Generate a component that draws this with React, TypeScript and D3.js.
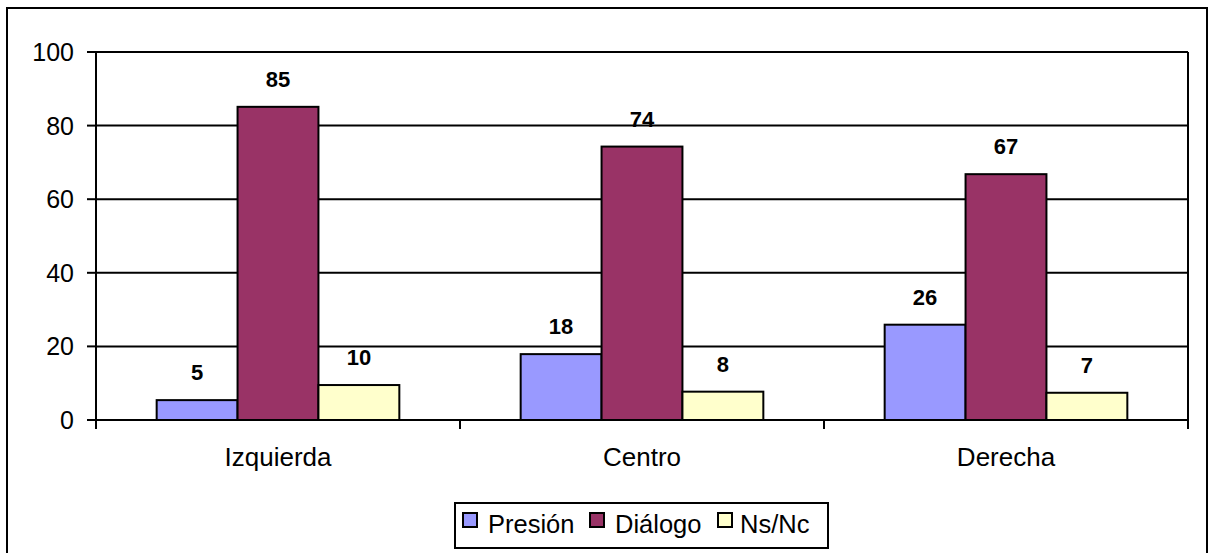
import React from "react";
import * as d3 from "d3";

const categories = ["Izquierda", "Centro", "Derecha"];
const seriesNames = ["Presión", "Diálogo", "Ns/Nc"];
const presion = [5.4, 17.9, 25.9];
const dialogo = [85.1, 74.3, 66.8];
const nsnc = [9.5, 7.7, 7.4];
const seriesValues = [presion, dialogo, nsnc];
const seriesColors = ["#9999FF", "#993366", "#FFFFCC"];
const yTicks = [0, 20, 40, 60, 80, 100];

const W = 1213;
const H = 553;
const left = 96;
const right = 1188;
const top = 52;
const bottom = 420;
const font = "Arial, 'Liberation Sans', sans-serif";

export default function App() {
  const x0 = d3.scaleBand<string>().domain(categories).range([left, right]).paddingInner(0).paddingOuter(0);
  const bw = x0.bandwidth();
  const barW = bw / 4.5;
  const x1 = d3
    .scaleBand<string>()
    .domain(seriesNames)
    .range([barW * 0.75, bw - barW * 0.75])
    .padding(0);
  const y = d3.scaleLinear().domain([0, 100]).range([bottom, top]);

  const legendItems = [
    { swatch: 463, text: 488 },
    { swatch: 590, text: 615 },
    { swatch: 718, text: 740 },
  ];

  return (
    <svg
      width={W}
      height={H}
      style={{ position: "absolute", left: 0, top: 0, background: "#fff" }}
      fontFamily={font}
    >
      <rect x={0} y={0} width={W} height={H} fill="#fff" />
      {/* outer border */}
      <rect x={7} y={8} width={1200} height={560} fill="none" stroke="#000" strokeWidth={2} />

      {/* gridlines */}
      {yTicks.slice(1).map((t) => (
        <line key={"g" + t} x1={left} x2={right} y1={y(t)} y2={y(t)} stroke="#000" strokeWidth={2} />
      ))}
      {/* right border of plot */}
      <line x1={right} x2={right} y1={top} y2={bottom} stroke="#000" strokeWidth={2} />

      {/* bars */}
      {categories.map((c, ci) =>
        seriesNames.map((s, si) => {
          const v = seriesValues[si][ci];
          const bx = (x0(c) as number) + (x1(s) as number);
          return (
            <g key={c + s}>
              <rect
                x={bx}
                y={y(v)}
                width={x1.bandwidth()}
                height={bottom - y(v)}
                fill={seriesColors[si]}
                stroke="#000"
                strokeWidth={2}
              />
              <text
                x={bx + x1.bandwidth() / 2}
                y={y(v) - 20}
                textAnchor="middle"
                fontSize={22}
                fontWeight="bold"
                fill="#000"
              >
                {Math.round(v)}
              </text>
            </g>
          );
        })
      )}

      {/* y axis */}
      <line x1={left} x2={left} y1={top} y2={bottom} stroke="#000" strokeWidth={2} />
      {yTicks.map((t) => (
        <g key={"yt" + t}>
          <line x1={left - 9} x2={left} y1={y(t)} y2={y(t)} stroke="#000" strokeWidth={2} />
          <text x={left - 22} y={y(t) + 9} textAnchor="end" fontSize={25} fill="#000">
            {t}
          </text>
        </g>
      ))}

      {/* x axis */}
      <line x1={left - 9} x2={right} y1={bottom} y2={bottom} stroke="#000" strokeWidth={2} />
      {[...categories.map((c) => x0(c) as number), right].map((tx, i) => (
        <line key={"xt" + i} x1={tx} x2={tx} y1={bottom} y2={bottom + 9} stroke="#000" strokeWidth={2} />
      ))}
      {categories.map((c) => (
        <text
          key={"xl" + c}
          x={(x0(c) as number) + bw / 2}
          y={466}
          textAnchor="middle"
          fontSize={26}
          fill="#000"
        >
          {c}
        </text>
      ))}

      {/* legend */}
      <rect x={455} y={503} width={373} height={45} fill="#fff" stroke="#000" strokeWidth={2} />
      {seriesNames.map((s, i) => (
        <g key={"lg" + s}>
          <rect
            x={legendItems[i].swatch}
            y={513}
            width={14}
            height={14}
            fill={seriesColors[i]}
            stroke="#000"
            strokeWidth={2}
          />
          <text x={legendItems[i].text} y={533} fontSize={25.5} fill="#000">
            {s}
          </text>
        </g>
      ))}
    </svg>
  );
}
